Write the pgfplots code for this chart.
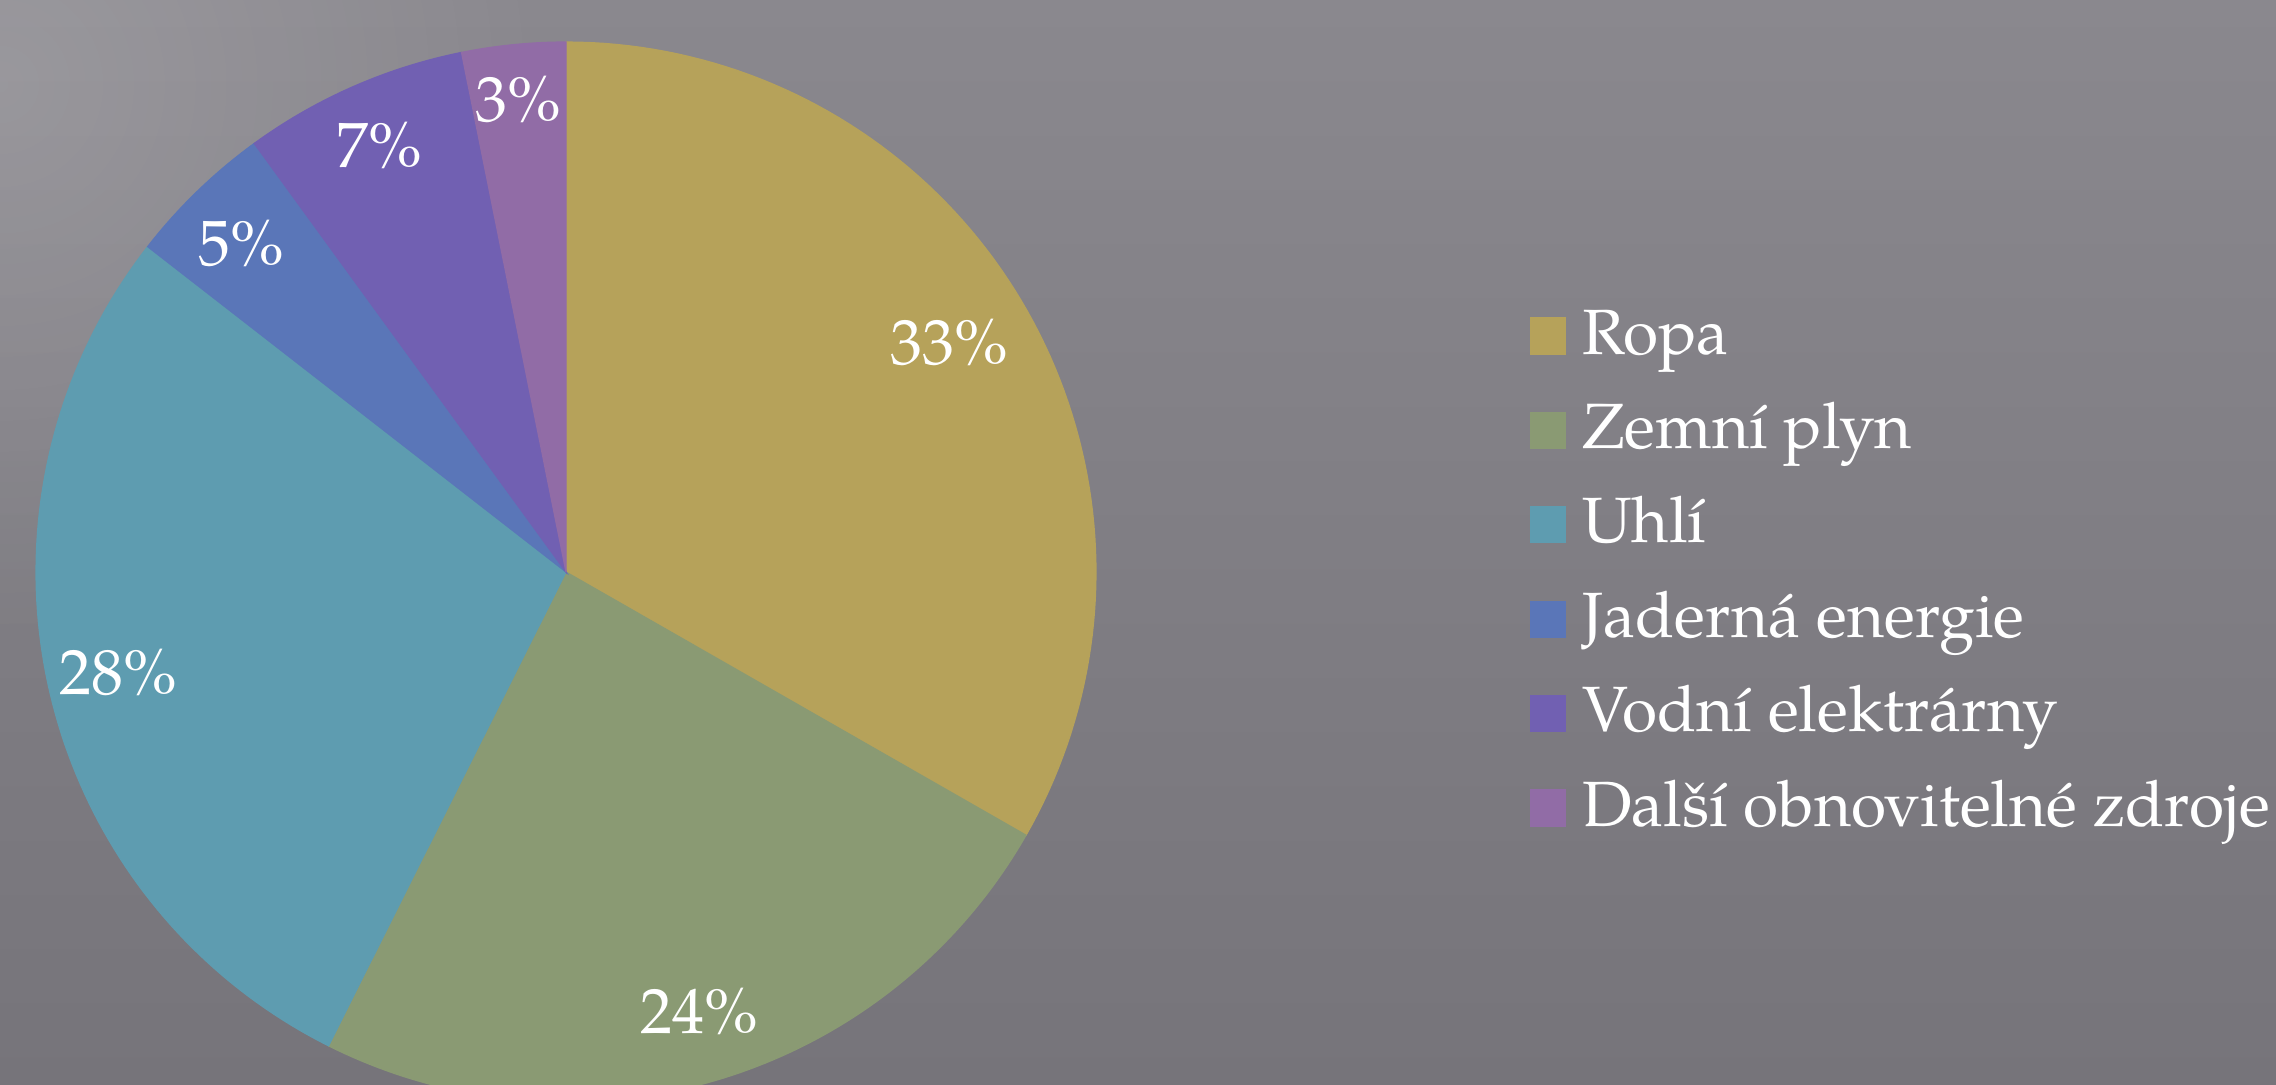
\documentclass[border=0pt]{standalone}
\usepackage{fontspec}
\setmainfont{texgyrepagella}[Extension=.otf, UprightFont=*-regular, BoldFont=*-bold, ItalicFont=*-italic, BoldItalicFont=*-bolditalic]
\usepackage{pgfplots}
\usepackage{pgfplotstable}
\usetikzlibrary{fadings}
\pgfplotsset{compat=1.18}
\tikzfading[name=softglow, inner color=transparent!0, outer color=transparent!100]

\definecolor{cRopa}{RGB}{182,162,90}
\definecolor{cZemni}{RGB}{138,154,115}
\definecolor{cUhli}{RGB}{94,156,176}
\definecolor{cJaderna}{RGB}{90,118,184}
\definecolor{cVodni}{RGB}{113,96,178}
\definecolor{cDalsi}{RGB}{145,108,166}
\definecolor{bgTop}{RGB}{138,136,142}
\definecolor{bgBot}{RGB}{118,116,122}

% share of each source, in percent
\pgfplotstableread{
name value
Ropa 33.27
Zemni 24.12
Uhli 28.13
Jaderna 4.47
Vodni 6.85
Dalsi 3.16
}\piedata

\pgfplotstablegetelem{0}{value}\of\piedata \let\vA\pgfplotsretval
\pgfplotstablegetelem{1}{value}\of\piedata \let\vB\pgfplotsretval
\pgfplotstablegetelem{2}{value}\of\piedata \let\vC\pgfplotsretval
\pgfplotstablegetelem{3}{value}\of\piedata \let\vD\pgfplotsretval
\pgfplotstablegetelem{4}{value}\of\piedata \let\vE\pgfplotsretval
\pgfplotstablegetelem{5}{value}\of\piedata \let\vF\pgfplotsretval
\pgfmathsetmacro\total{\vA+\vB+\vC+\vD+\vE+\vF}
\pgfmathsetmacro\aA{90}
\pgfmathsetmacro\aB{\aA-360*\vA/\total}
\pgfmathsetmacro\aC{\aB-360*\vB/\total}
\pgfmathsetmacro\aD{\aC-360*\vC/\total}
\pgfmathsetmacro\aE{\aD-360*\vD/\total}
\pgfmathsetmacro\aF{\aE-360*\vE/\total}
\pgfmathsetmacro\aG{\aF-360*\vF/\total}

\begin{document}
\begin{tikzpicture}
\path[use as bounding box] (0,0) rectangle (569pt,271pt);
\clip (0,0) rectangle (569pt,271pt);
\shade[top color=bgTop, bottom color=bgBot] (0,0) rectangle (569pt,271pt);
\fill[white, opacity=0.14, path fading=softglow] (0pt,250pt) circle (140pt);
\begin{axis}[
  at={(141.5pt,128pt)}, anchor=center,
  scale only axis, width=265pt, height=265pt,
  xmin=-1, xmax=1, ymin=-1, ymax=1,
  hide axis, clip=false,
  samples=90,
  legend image code/.code={\fill[#1] (0pt,-4pt) rectangle (8.75pt,5pt);},
  legend style={
    at={(1.4094,0.7509)}, anchor=north west,
    draw=none, fill=none, inner sep=0pt, outer sep=0pt,
    text=white, font=\fontsize{16}{19}\selectfont,
    row sep=7.6pt, column sep=4pt,
    nodes={inner sep=0pt, text height=12pt, text depth=4pt},
    cells={anchor=west},
  },
]
\addplot[fill=cRopa, draw=cRopa, line width=0.3pt, domain=\aB:\aA] ({cos(x)},{sin(x)}) -- (axis cs:0,0) -- cycle;
\addlegendentry{Ropa}
\addplot[fill=cZemni, draw=cZemni, line width=0.3pt, domain=\aC:\aB] ({cos(x)},{sin(x)}) -- (axis cs:0,0) -- cycle;
\addlegendentry{Zemní plyn}
\addplot[fill=cUhli, draw=cUhli, line width=0.3pt, domain=\aD:\aC] ({cos(x)},{sin(x)}) -- (axis cs:0,0) -- cycle;
\addlegendentry{Uhlí}
\addplot[fill=cJaderna, draw=cJaderna, line width=0.3pt, domain=\aE:\aD] ({cos(x)},{sin(x)}) -- (axis cs:0,0) -- cycle;
\addlegendentry{Jaderná energie}
\addplot[fill=cVodni, draw=cVodni, line width=0.3pt, domain=\aF:\aE] ({cos(x)},{sin(x)}) -- (axis cs:0,0) -- cycle;
\addlegendentry{Vodní elektrárny}
\addplot[fill=cDalsi, draw=cDalsi, line width=0.3pt, domain=\aG:\aF] ({cos(x)},{sin(x)}) -- (axis cs:0,0) -- cycle;
\addlegendentry{Další obnovitelné zdroje}

\begin{scope}[every node/.style={anchor=base, text=white, inner sep=0pt, font=\fontsize{16}{19}\selectfont}]
\node at (axis cs:0.7226,0.3906) {33\%};
\node at (axis cs:0.2509,-0.8698) {24\%};
\node at (axis cs:-0.8453,-0.2302) {28\%};
\node at (axis cs:-0.6132,0.5792) {5\%};
\node at (axis cs:-0.3528,0.7623) {7\%};
\node at (axis cs:-0.0906,0.8491) {3\%};
\end{scope}
\end{axis}
\end{tikzpicture}
\end{document}
